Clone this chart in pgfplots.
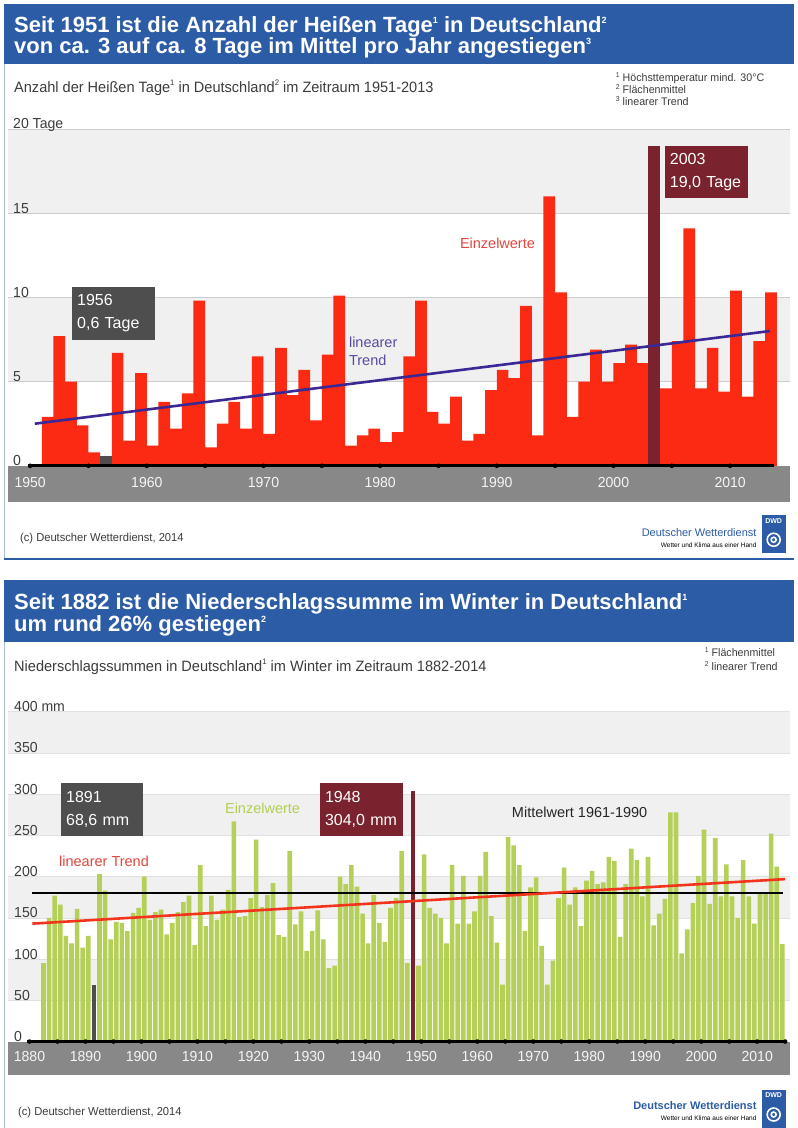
\documentclass[border=0pt]{standalone}
\usepackage{fontspec}
\usepackage{pgfplots}
\pgfplotsset{compat=1.18}
\usepackage{pgfplotstable}
\setmainfont{Liberation Sans}
\newfontfamily\nar[FakeStretch=0.97]{Liberation Sans}
\newfontfamily\head[FakeStretch=1.0]{Liberation Sans}
\newcommand{\tsup}[1]{\raisebox{9pt}{\fontsize{9}{9}\selectfont #1}}
\newcommand{\ssup}[1]{\raisebox{7.5pt}{\fontsize{8}{8}\selectfont #1}}
\newcommand{\fsup}[1]{\raisebox{4pt}{\fontsize{7}{7}\selectfont #1}}
\definecolor{dwdblue}{RGB}{44,92,166}
\definecolor{band}{RGB}{240,240,240}
\definecolor{gridc}{RGB}{205,205,205}
\definecolor{barred}{RGB}{252,42,18}
\definecolor{darkred}{RGB}{122,34,46}
\definecolor{darkgray}{RGB}{78,78,78}
\definecolor{trendblue}{RGB}{60,40,148}
\definecolor{axgray}{RGB}{136,136,136}
\definecolor{bargreen}{RGB}{180,208,88}
\definecolor{trendred}{RGB}{242,52,28}
\definecolor{framec}{RGB}{170,186,212}
\definecolor{txtgray}{RGB}{60,60,60}
\definecolor{einzelred}{RGB}{226,70,62}
\definecolor{einzelgreen}{RGB}{178,206,84}

\pgfplotstableread{
year val
1951 2.9
1952 7.7
1953 5.0
1954 2.4
1955 0.8
1957 6.7
1958 1.5
1959 5.5
1960 1.2
1961 3.8
1962 2.2
1963 4.3
1964 9.8
1965 1.1
1966 2.5
1967 3.8
1968 2.2
1969 6.5
1970 1.9
1971 7.0
1972 4.2
1973 5.7
1974 2.7
1975 6.6
1976 10.1
1977 1.2
1978 1.8
1979 2.2
1980 1.4
1981 2.0
1982 6.5
1983 9.8
1984 3.2
1985 2.5
1986 4.1
1987 1.5
1988 1.9
1989 4.5
1990 5.7
1991 5.2
1992 9.5
1993 1.8
1994 16.0
1995 10.3
1996 2.9
1997 5.0
1998 6.9
1999 5.0
2000 6.1
2001 7.2
2002 6.1
2004 4.6
2005 7.4
2006 14.1
2007 4.6
2008 7.0
2009 4.4
2010 10.4
2011 4.1
2012 7.4
2013 10.3
}\hotdays

\pgfplotstableread{
year val
1882 95
1883 150
1884 177
1885 166
1886 128
1887 119
1888 161
1889 114
1890 128
1892 203
1893 183
1894 124
1895 145
1896 144
1897 134
1898 156
1899 162
1900 200
1901 148
1902 157
1903 160
1904 130
1905 144
1906 157
1907 169
1908 177
1909 117
1910 214
1911 140
1912 177
1913 148
1914 160
1915 184
1916 267
1917 151
1918 152
1919 174
1920 245
1921 163
1922 178
1923 192
1924 129
1925 127
1926 231
1927 142
1928 158
1929 110
1930 134
1931 159
1932 124
1933 89
1934 92
1935 200
1936 191
1937 214
1938 188
1939 155
1940 119
1941 178
1942 144
1943 121
1944 162
1945 174
1946 231
1947 95
1949 92
1950 227
1951 162
1952 155
1953 150
1954 119
1955 214
1956 143
1957 201
1958 143
1959 158
1960 201
1961 230
1962 152
1963 120
1964 69
1965 248
1966 238
1967 214
1968 134
1969 187
1970 199
1971 116
1972 69
1973 98
1974 174
1975 211
1976 166
1977 187
1978 140
1979 195
1980 207
1981 191
1982 193
1983 224
1984 219
1985 127
1986 191
1987 234
1988 220
1989 176
1990 224
1991 141
1992 155
1993 173
1994 278
1995 278
1996 107
1997 136
1998 168
1999 201
2000 257
2001 167
2002 247
2003 176
2004 215
2005 176
2006 150
2007 220
2008 176
2009 143
2010 180
2011 180
2012 252
2013 212
2014 118
}\winterprec

\begin{document}
\begin{tikzpicture}
\fill[white] (0pt,0pt) rectangle (798pt,-1128pt);
\begin{scope}[x=1pt,y=-1pt]
 % ---------- panel 1 frame ----------
 \fill[dwdblue] (4,4) rectangle (794,64);
 \node[anchor=base west, inner sep=0, text=white, font=\head\bfseries\fontsize{22}{22}\selectfont] at (14,33) {Seit 1951 ist die Anzahl der Heißen Tage\tsup{1} in Deutschland\tsup{2}};
 \node[anchor=base west, inner sep=0, text=white, font=\head\bfseries\fontsize{22}{22}\selectfont] at (14,54) {von ca. 3 auf ca. 8 Tage im Mittel pro Jahr angestiegen\tsup{3}};
 \draw[framec, line width=1pt] (5,64) -- (5,559);
 \draw[dwdblue, line width=1.5pt] (4,559) -- (794,559);
 \node[anchor=base west, inner sep=0, text=txtgray, font=\nar\fontsize{15}{15}\selectfont] at (14,93) {Anzahl der Heißen Tage\ssup{1} in Deutschland\ssup{2} im Zeitraum 1951-2013};
 \node[anchor=base west, inner sep=0, text=txtgray, font=\nar\fontsize{11}{11}\selectfont] at (616,82) {\fsup{1} Höchsttemperatur mind. 30°C};
 \node[anchor=base west, inner sep=0, text=txtgray, font=\nar\fontsize{11}{11}\selectfont] at (616,94) {\fsup{2} Flächenmittel};
 \node[anchor=base west, inner sep=0, text=txtgray, font=\nar\fontsize{11}{11}\selectfont] at (616,106) {\fsup{3} linearer Trend};
 \fill[axgray] (8,466) rectangle (790,502);
 \node[anchor=base west, inner sep=0, text=txtgray, font=\nar\fontsize{11.5}{11.5}\selectfont] at (20,542) {(c) Deutscher Wetterdienst, 2014};
 \node[anchor=base east, inner sep=0, text=dwdblue, font=\fontsize{11}{11}\selectfont] at (757,537) {Deutscher Wetterdienst};
 \node[anchor=base east, inner sep=0, text=black, font=\fontsize{6.5}{6.5}\selectfont] at (757,548) {Wetter und Klima aus einer Hand};
 \fill[dwdblue] (762,515) rectangle (786,553);
 \node[text=white, inner sep=0, font=\bfseries\fontsize{7}{7}\selectfont] at (774,521) {DWD};
 \draw[white, line width=1.6pt] (774,540) circle (6.5);
 \draw[white, line width=1.6pt] (774,540) circle (2.5);
 % ---------- panel 2 frame ----------
 \fill[dwdblue] (4,580) rectangle (794,642);
 \node[anchor=base west, inner sep=0, text=white, font=\head\bfseries\fontsize{22}{22}\selectfont] at (14,610) {Seit 1882 ist die Niederschlagssumme im Winter in Deutschland\tsup{1}};
 \node[anchor=base west, inner sep=0, text=white, font=\head\bfseries\fontsize{22}{22}\selectfont] at (14,632) {um rund 26\% gestiegen\tsup{2}};
 \draw[framec, line width=1pt] (5,642) -- (5,1128);
 \node[anchor=base west, inner sep=0, text=txtgray, font=\nar\fontsize{15}{15}\selectfont] at (14,672) {Niederschlagssummen in Deutschland\ssup{1} im Winter im Zeitraum 1882-2014};
 \node[anchor=base west, inner sep=0, text=txtgray, font=\nar\fontsize{11}{11}\selectfont] at (705,657) {\fsup{1} Flächenmittel};
 \node[anchor=base west, inner sep=0, text=txtgray, font=\nar\fontsize{11}{11}\selectfont] at (705,671) {\fsup{2} linearer Trend};
 \fill[axgray] (8,1042) rectangle (790,1075);
 \node[anchor=base west, inner sep=0, text=txtgray, font=\nar\fontsize{11.5}{11.5}\selectfont] at (18,1116) {(c) Deutscher Wetterdienst, 2014};
 \node[anchor=base east, inner sep=0, text=dwdblue, font=\bfseries\fontsize{11}{11}\selectfont] at (757,1110) {Deutscher Wetterdienst};
 \node[anchor=base east, inner sep=0, text=black, font=\fontsize{6.5}{6.5}\selectfont] at (757,1121) {Wetter und Klima aus einer Hand};
 \fill[dwdblue] (762,1090) rectangle (786,1128);
 \node[text=white, inner sep=0, font=\bfseries\fontsize{7}{7}\selectfont] at (774,1096) {DWD};
 \draw[white, line width=1.6pt] (774,1115) circle (6.5);
 \draw[white, line width=1.6pt] (774,1115) circle (2.5);
\end{scope}

% ================= Panel 1 axis =================
\begin{axis}[
  at={(8pt,-466pt)}, anchor=south west,
  scale only axis, width=782pt, height=337pt,
  xmin=1948.1, xmax=2015.1, ymin=0, ymax=20,
  axis line style={draw=none}, tick style={draw=none},
  xtick={1950,1960,...,2010}, ytick=\empty,
  xticklabel style={font=\nar\fontsize{14.5}{14.5}\selectfont, text=white!92!gray, anchor=center, yshift=-17pt},
  /pgf/number format/1000 sep={}, /pgf/number format/assume math mode=true,
  clip=false,
]
\fill[band] (axis cs:1948.1,15) rectangle (axis cs:2015.1,20);
\fill[band] (axis cs:1948.1,5) rectangle (axis cs:2015.1,10);
\pgfplotsinvokeforeach{5,10,15,20}{
  \draw[gridc, line width=0.6pt] (axis cs:1948.1,#1) -- (axis cs:2015.1,#1);
}
\addplot[ybar, bar width=1, bar shift=5.836pt, fill=barred, draw=none] table[x=year,y=val]{\hotdays};
\addplot[ybar, bar width=1, bar shift=5.836pt, fill=darkgray, draw=none] coordinates {(1956,0.6)};
\addplot[ybar, bar width=1, bar shift=5.836pt, fill=darkred, draw=none] coordinates {(2003,19.0)};
\addplot[trendblue, line width=2.6pt] coordinates {(1950.4,2.5) (2013.4,8.0)};
\draw[black, line width=3pt] (axis cs:1949.8,0) -- (axis cs:2013.8,0);
\pgfplotsinvokeforeach{1950,1955,...,2010}{
  \fill[black] (axis cs:#1,0) circle[radius=2.3pt];
}
\node[anchor=base west, inner sep=0, text=txtgray, font=\nar\fontsize{14.5}{14.5}\selectfont, xshift=5pt] at (axis cs:1948.1,20) {20 Tage};
\pgfplotsinvokeforeach{0,5,10,15}{
  \node[anchor=base west, inner sep=0, text=txtgray, font=\nar\fontsize{14.5}{14.5}\selectfont, xshift=5pt] at (axis cs:1948.1,#1) {#1};
}
\end{axis}

% ================= Panel 2 axis =================
\begin{axis}[
  at={(8pt,-1042pt)}, anchor=south west,
  scale only axis, width=782pt, height=330pt,
  xmin=1876.16, xmax=2015.8, ymin=0, ymax=400,
  axis line style={draw=none}, tick style={draw=none},
  xtick={1880,1890,...,2010}, ytick=\empty,
  xticklabel style={font=\nar\fontsize{14.5}{14.5}\selectfont, text=white!92!gray, anchor=center, yshift=-15pt},
  /pgf/number format/1000 sep={}, /pgf/number format/assume math mode=true,
  clip=false,
]
\fill[band] (axis cs:1876.16,350) rectangle (axis cs:2015.8,400);
\fill[band] (axis cs:1876.16,250) rectangle (axis cs:2015.8,300);
\fill[band] (axis cs:1876.16,150) rectangle (axis cs:2015.8,200);
\fill[band] (axis cs:1876.16,50) rectangle (axis cs:2015.8,100);
\pgfplotsinvokeforeach{50,100,...,400}{
  \draw[gridc!60!white, line width=0.6pt] (axis cs:1876.16,#1) -- (axis cs:2015.8,#1);
}
\addplot[ybar, bar width=0.82, bar shift=2.8pt, fill=bargreen, draw=none] table[x=year,y=val]{\winterprec};
\addplot[ybar, bar width=0.82, bar shift=2.8pt, fill=darkgray, draw=none] coordinates {(1891,68.6)};
\addplot[ybar, bar width=0.82, bar shift=2.8pt, fill=darkred, draw=none] coordinates {(1948,304.0)};
\addplot[black, line width=2.4pt] coordinates {(1880.45,180) (2014.6,180)};
\addplot[trendred, line width=2.6pt] coordinates {(1880.5,143) (2015,197)};
\draw[black, line width=3pt] (axis cs:1879.5,0) -- (axis cs:2015.3,0);
\pgfplotsinvokeforeach{1880,1885,...,2015}{
  \fill[black] (axis cs:#1,0) circle[radius=2.3pt];
}
\node[anchor=base west, inner sep=0, text=txtgray, font=\nar\fontsize{14.5}{14.5}\selectfont, xshift=6pt] at (axis cs:1876.16,400) {400 mm};
\pgfplotsinvokeforeach{0,50,100,...,350}{
  \node[anchor=base west, inner sep=0, text=txtgray, font=\nar\fontsize{14.5}{14.5}\selectfont, xshift=6pt] at (axis cs:1876.16,#1) {#1};
}
\end{axis}

% ================= annotations =================
\begin{scope}[x=1pt,y=-1pt]
 \node[anchor=north west, fill=darkgray, text=white, minimum height=53pt, text width=73pt, inner xsep=5pt, inner ysep=6pt, align=left, font=\fontsize{16}{23}\selectfont] at (72,287) {1956\\0,6 Tage};
 \node[anchor=north west, fill=darkred, text=white, minimum height=52pt, text width=73pt, inner xsep=5pt, inner ysep=6pt, align=left, font=\fontsize{16}{23}\selectfont] at (665,146) {2003\\19,0 Tage};
 \node[anchor=base west, inner sep=0, text=einzelred, font=\fontsize{14.5}{14.5}\selectfont] at (460,249) {Einzelwerte};
 \node[anchor=base west, inner sep=0, text=trendblue!85!white, font=\fontsize{14.5}{14.5}\selectfont] at (349,348) {linearer};
 \node[anchor=base west, inner sep=0, text=trendblue!85!white, font=\fontsize{14.5}{14.5}\selectfont] at (349,366) {Trend};
 \node[anchor=north west, fill=darkgray, text=white, minimum height=53pt, text width=72pt, inner xsep=5pt, inner ysep=6pt, align=left, font=\fontsize{16}{23}\selectfont] at (61,783) {1891\\68,6 mm};
 \node[anchor=north west, fill=darkred, text=white, minimum height=53pt, text width=73pt, inner xsep=5pt, inner ysep=6pt, align=left, font=\fontsize{16}{23}\selectfont] at (320,783) {1948\\304,0 mm};
 \node[anchor=base west, inner sep=0, text=einzelgreen, font=\fontsize{14.5}{14.5}\selectfont] at (225,814) {Einzelwerte};
 \node[anchor=base west, inner sep=0, text=einzelred, font=\fontsize{14.5}{14.5}\selectfont] at (59,867) {linearer Trend};
 \node[anchor=base west, inner sep=0, text=black!85, font=\fontsize{14.5}{14.5}\selectfont] at (512,818) {Mittelwert 1961-1990};
\end{scope}
\end{tikzpicture}
\end{document}
